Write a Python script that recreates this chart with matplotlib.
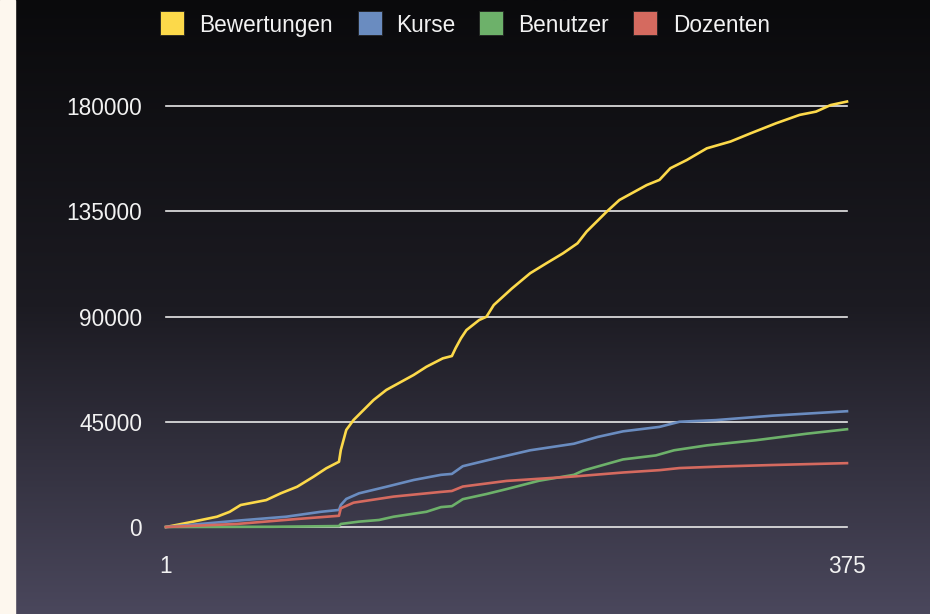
import matplotlib
matplotlib.use("Agg")
import matplotlib.pyplot as plt
import numpy as np
from matplotlib.patches import Rectangle
from matplotlib.colors import LinearSegmentedColormap

plt.rcParams['font.family'] = ['Liberation Sans', 'DejaVu Sans']

# ---- data ----
series_names = ["Bewertungen", "Kurse", "Benutzer", "Dozenten"]
series_colors = ["#fcd94a", "#6a8cc0", "#6db16a", "#d56a5f"]

bew_x = [1, 16, 29, 36, 42, 56, 64, 73, 82, 89, 96, 97, 100, 104, 115, 122, 137, 144,
         153, 158, 160, 163, 166, 173, 177, 181, 191, 201, 210, 219, 227, 232, 243, 250,
         265, 272, 278, 287, 298, 311, 322, 336, 349, 358, 366, 375]
bew_y = [0, 2300, 4400, 6500, 9400, 11500, 14400, 17200, 21500, 25100, 27900, 32900,
         41500, 45750, 54300, 58600, 65000, 68500, 72100, 73100, 76400, 80700, 84200,
         88500, 89900, 94900, 102000, 108500, 112800, 117000, 121300, 126300, 134800,
         139800, 146200, 148400, 153400, 156900, 161900, 164800, 168300, 172600, 176200,
         177600, 180400, 181900]

kurse_x = [1, 20, 40, 67, 86, 96, 97, 100, 107, 122, 137, 152, 158, 164, 181, 201, 225,
           238, 252, 272, 283, 303, 334, 375]
kurse_y = [0, 1300, 2700, 4400, 6500, 7300, 9400, 12000, 14400, 17200, 20100, 22300,
           22700, 26000, 29200, 32800, 35600, 38500, 40900, 42800, 45000, 45700, 47600,
           49500]

ben_x = [1, 60, 96, 97, 107, 118, 126, 144, 152, 158, 164, 177, 188, 206, 225, 230, 252,
         270, 280, 298, 325, 353, 375]
ben_y = [0, 100, 400, 1300, 2300, 3000, 4400, 6500, 8500, 8900, 11900, 14100, 16200,
         19800, 22300, 24100, 28900, 30600, 32800, 34900, 37100, 39900, 41800]

doz_x = [1, 40, 71, 96, 97, 104, 126, 152, 158, 164, 188, 225, 252, 272, 283, 307, 334,
         375]
doz_y = [0, 1300, 3300, 4800, 8000, 10400, 13000, 15000, 15400, 17300, 19700, 21600,
         23300, 24300, 25200, 25900, 26500, 27300]

y_ticks = [0, 45000, 90000, 135000, 180000]
x_ticks = [1, 375]

# ---- figure ----
W, H = 930, 614
fig = plt.figure(figsize=(W / 100, H / 100), dpi=100)

# background gradient
bg = fig.add_axes([0, 0, 1, 1])
cmap = LinearSegmentedColormap.from_list("bg", ["#0a0a0c", "#1c1b22", "#4a475c"])
grad = np.linspace(0, 1, 256).reshape(-1, 1)
bg.imshow(grad, aspect="auto", cmap=cmap, extent=[0, 1, 0, 1], origin="upper")
bg.add_patch(Rectangle((0, 0), 15 / W, 1, color="#fdf7ee", transform=bg.transAxes))
bg.set_xlim(0, 1); bg.set_ylim(0, 1)
bg.axis("off")

# plot axes: x 166..847 px, y0 at 527 px, 180000 at 106 px
left, right, y0px, ytop_px = 166, 847, 527, 60
ppv = (527 - 106) / 180000.0
ymax = (y0px - ytop_px) / ppv
ax = fig.add_axes([left / W, (H - y0px) / H, (right - left) / W, (y0px - ytop_px) / H])
ax.set_facecolor("none")
ax.set_xlim(1, 375)
ax.set_ylim(0, ymax)
for s in ax.spines.values():
    s.set_visible(False)
ax.set_xticks([]); ax.set_yticks([])

for t in y_ticks:
    ax.axhline(t, color="#e8e8e8", lw=1.2, zorder=1, clip_on=False)
    ax.text(-0.035, t + 1.5 / ppv * 0, str(t), transform=ax.get_yaxis_transform(),
            ha="right", va="center_baseline", color="#f2f2f2", fontsize=16.3)
for t in x_ticks:
    ax.text(t, -37 / ppv, str(t), ha="center", va="center_baseline", color="#f2f2f2",
            fontsize=16.3)

data = [(bew_x, bew_y), (kurse_x, kurse_y), (ben_x, ben_y), (doz_x, doz_y)]
order = [2, 3, 1, 0]
for i in order:
    xs, ys = data[i]
    ax.plot(xs, ys, color=series_colors[i], lw=1.9, zorder=3 + i, clip_on=False,
            solid_joinstyle="round")

# legend
leg_sq_x = [160, 358, 479, 633]
leg_tx_x = [199, 396, 518, 673]
for i, name in enumerate(series_names):
    bg.add_patch(Rectangle((leg_sq_x[i] / W, 1 - 35 / H), 24 / W, 24 / H,
                           facecolor=series_colors[i], edgecolor="#222222", lw=0.6,
                           transform=bg.transAxes))
    bg.text(leg_tx_x[i] / W, 1 - 23 / H, name, transform=bg.transAxes, ha="left",
            va="center_baseline", color="#f2f2f2", fontsize=16.3)

fig.savefig("out.png", dpi=100)
